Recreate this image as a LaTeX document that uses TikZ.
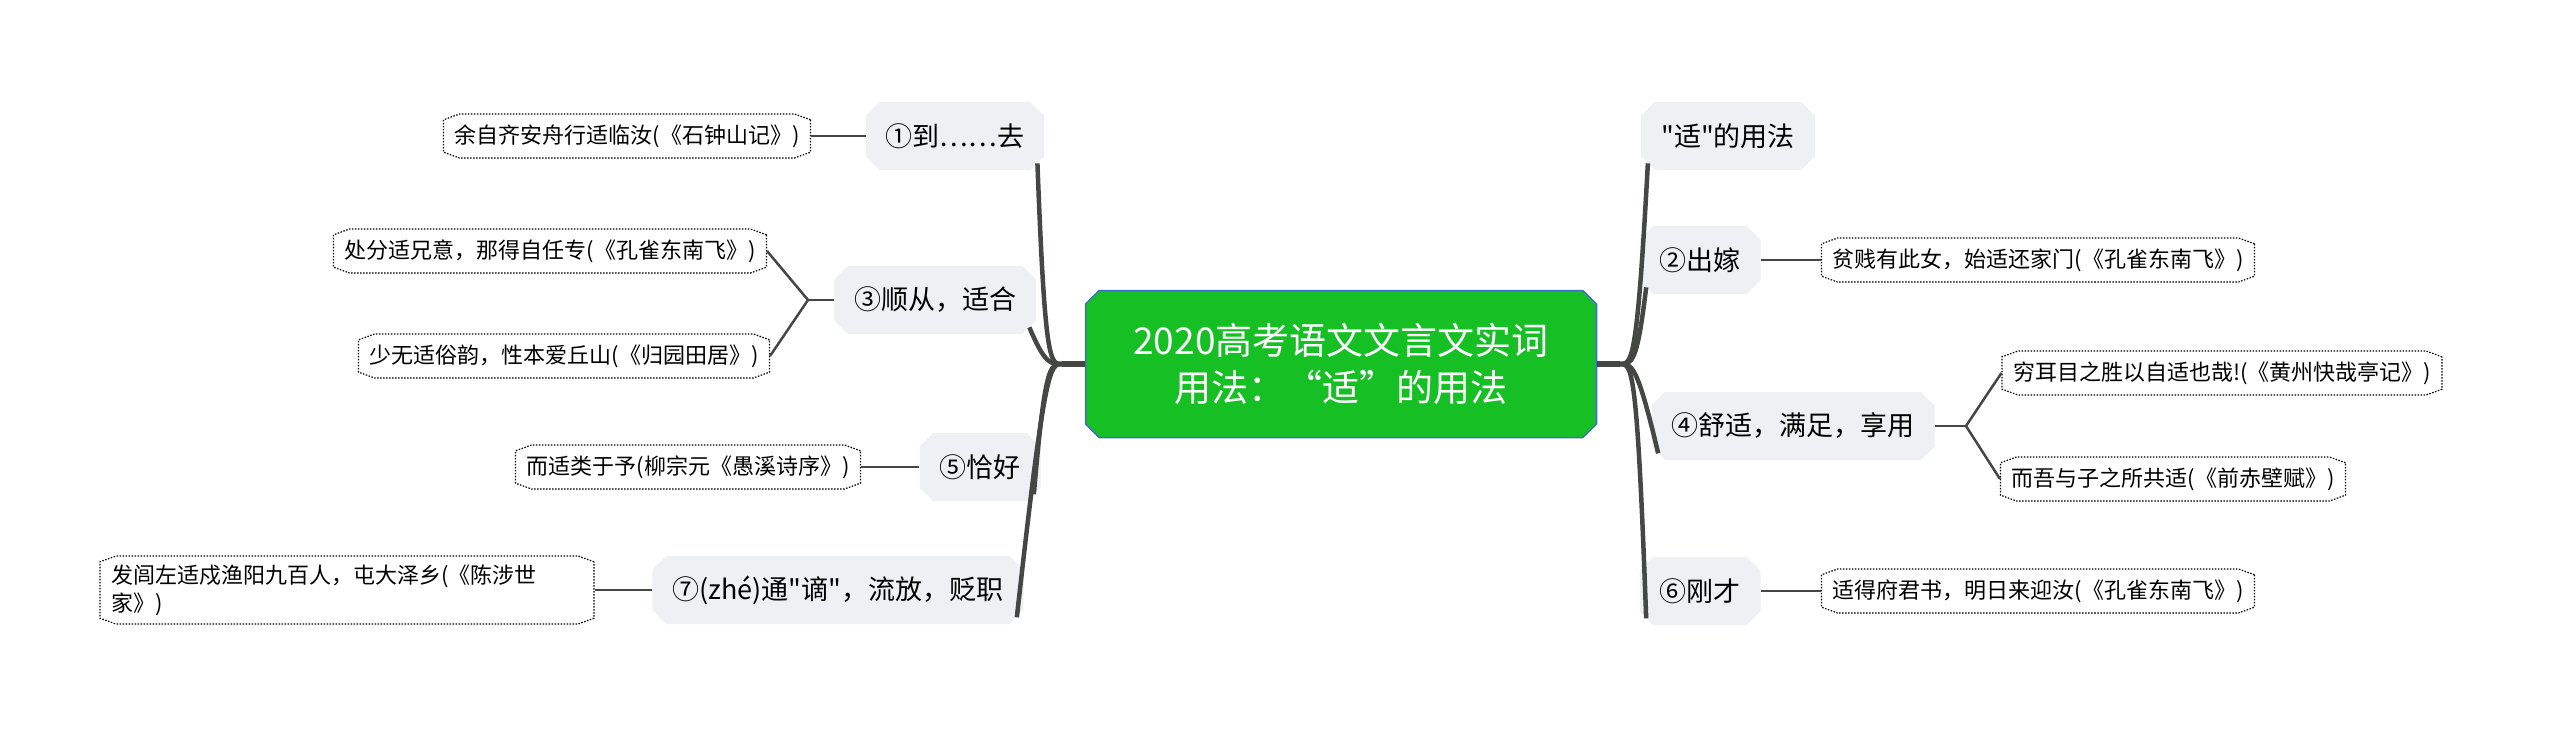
\documentclass[tikz,border=0pt]{standalone}
\usepackage{fontspec}
\setmainfont[Ligatures=TeXOff]{Noto Sans CJK SC}
\usetikzlibrary{shapes.misc}
\definecolor{cgreen}{HTML}{16C024}
\definecolor{cblue}{HTML}{3A6FC8}
\definecolor{lgray}{HTML}{EEF0F3}
\definecolor{lnk}{HTML}{454745}
\begin{document}
\begin{tikzpicture}[x=1pt,y=-1pt,
  center/.style={chamfered rectangle,chamfered rectangle xsep=10pt,fill=cgreen,draw=cblue,line width=1.5pt,text=white,font=\fontsize{37}{47}\selectfont,align=center,minimum width=511pt,minimum height=147pt,inner sep=0pt},
  branch/.style={chamfered rectangle,chamfered rectangle xsep=10pt,fill=lgray,font=\fontsize{27}{32}\selectfont,minimum height=68pt,inner xsep=10pt},
  leaf/.style={chamfered rectangle,chamfered rectangle angle=70,chamfered rectangle xsep=6pt,draw=black,dash pattern=on 1.5pt off 1.5pt,line width=1.2pt,fill=white,font=\fontsize{22}{28}\selectfont,minimum height=44pt,inner xsep=5pt},
  trunk/.style={draw=lnk,line width=4.5pt},
  twig/.style={draw=lnk,line width=2.5pt}]
\useasboundingbox (0,0) rectangle (2560,738);
\node[center] (c) at (1341,364) {2020高考语文文言文实词\\用法：“适”的用法};
% left branches
\node[branch] (b1) at (955,136) {①到……去};
\node[branch] (b3) at (935,300) {③顺从，适合};
\node[branch] (b5) at (980,467) {⑤恰好};
\node[branch] (b7) at (838,590) {⑦(zhé)通"谪"，流放，贬职};
% right branches
\node[branch] (r0) at (1728,136) {"适"的用法};
\node[branch] (b2) at (1700,260) {②出嫁};
\node[branch] (b4) at (1793,426) {④舒适，满足，享用};
\node[branch] (b6) at (1700,591) {⑥刚才};
% leaves
\node[leaf] (l1) at (627,136) {余自齐安舟行适临汝(《石钟山记》)};
\node[leaf] (l3a) at (550,251) {处分适兄意，那得自任专(《孔雀东南飞》)};
\node[leaf] (l3b) at (564,356) {少无适俗韵，性本爱丘山(《归园田居》)};
\node[leaf] (l5) at (688,467) {而适类于予(柳宗元《愚溪诗序》)};
\node[leaf,align=left,text width=472pt,minimum height=68pt] (l7) at (347,590) {发闾左适戍渔阳九百人，屯大泽乡(《陈涉世\\家》)};
\node[leaf] (l2) at (2038,260) {贫贱有此女，始适还家门(《孔雀东南飞》)};
\node[leaf] (l4a) at (2222,373) {穷耳目之胜以自适也哉!(《黄州快哉亭记》)};
\node[leaf] (l4b) at (2173,479) {而吾与子之所共适(《前赤壁赋》)};
\node[leaf] (l6) at (2038,591) {适得府君书，明日来迎汝(《孔雀东南飞》)};
% trunks
\coordinate (jl) at (1062,364);
\coordinate (jr) at (1620,364);
\draw[trunk,line width=6pt] (c.west) -- (jl);
\draw[trunk,line width=6pt] (c.east) -- (jr);
\foreach \b in {b1,b3,b5,b7}{\draw[trunk] (jl) .. controls (1050,364) and (1045,364) .. (\b.south east);}
\foreach \b in {r0,b2,b4,b6}{\draw[trunk] (jr) .. controls (1632,364) and (1637,364) .. (\b.south west);}
% twigs
\draw[twig] (b1.west) -- (l1.east);
\coordinate (f3) at (808,300);
\draw[twig] (b3.west) -- (f3);
\draw[twig] (f3) -- (l3a.east);
\draw[twig] (f3) -- (l3b.east);
\draw[twig] (b5.west) -- (l5.east);
\draw[twig] (b7.west) -- (l7.east);
\draw[twig] (b2.east) -- (l2.west);
\coordinate (f4) at (1966,426);
\draw[twig] (b4.east) -- (f4);
\draw[twig] (f4) -- (l4a.west);
\draw[twig] (f4) -- (l4b.west);
\draw[twig] (b6.east) -- (l6.west);
\end{tikzpicture}
\end{document}
